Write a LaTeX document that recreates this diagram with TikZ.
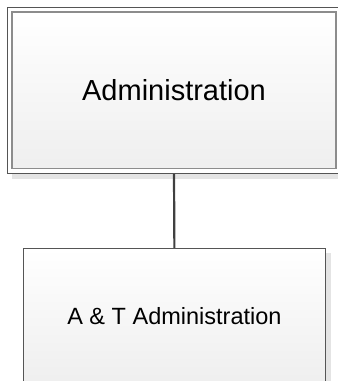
\documentclass[tikz,border=0pt]{standalone}
\usepackage{fontspec}
\setmainfont{Liberation Sans}
\usepackage{tikz}
\usetikzlibrary{positioning,fit,backgrounds}

\definecolor{framegrey}{HTML}{555555}
\definecolor{innergrey}{HTML}{8C8C8C}
\definecolor{linkgrey}{HTML}{404040}
\definecolor{shadowgrey}{HTML}{E4E4E4}

\begin{document}
\begin{tikzpicture}[
  x=1pt, y=-1pt,
  unitbox/.style={rectangle, top color=white, bottom color=gray!13,
                  align=center, inner sep=0pt},
  topunit/.style={unitbox, draw=innergrey, line width=1.4pt,
                  minimum width=323.7pt, minimum height=156.3pt,
                  font=\fontsize{29}{33}\selectfont},
  topframe/.style={draw=framegrey, line width=0.9pt, inner sep=4.3pt},
  subunit/.style={unitbox, draw=framegrey, line width=1pt,
                  minimum width=302.2pt, minimum height=135.5pt,
                  font=\fontsize{23.5}{27}\selectfont},
  shade/.style={fill=shadowgrey},
  link/.style={draw=linkgrey, line width=2.2pt}
]
\useasboundingbox (0,0) rectangle (338,381);

% Units
\node[topunit] (admin) at (174,90.2) {Administration};
\node[topframe, fit=(admin)] (adminframe) {};
\node[subunit] (atadmin) at (174.4,316) {A \& T Administration};

% Shadows
\begin{scope}[on background layer]
  \fill[shade] ([xshift=5pt]adminframe.south west)
    rectangle ([yshift=-5pt]adminframe.south east);
  \fill[shade] ([yshift=-5pt]atadmin.north east)
    rectangle ([xshift=4.5pt]atadmin.south east);
\end{scope}

% Connector
\draw[link] (adminframe.south) -- (atadmin.north);

\end{tikzpicture}
\end{document}
